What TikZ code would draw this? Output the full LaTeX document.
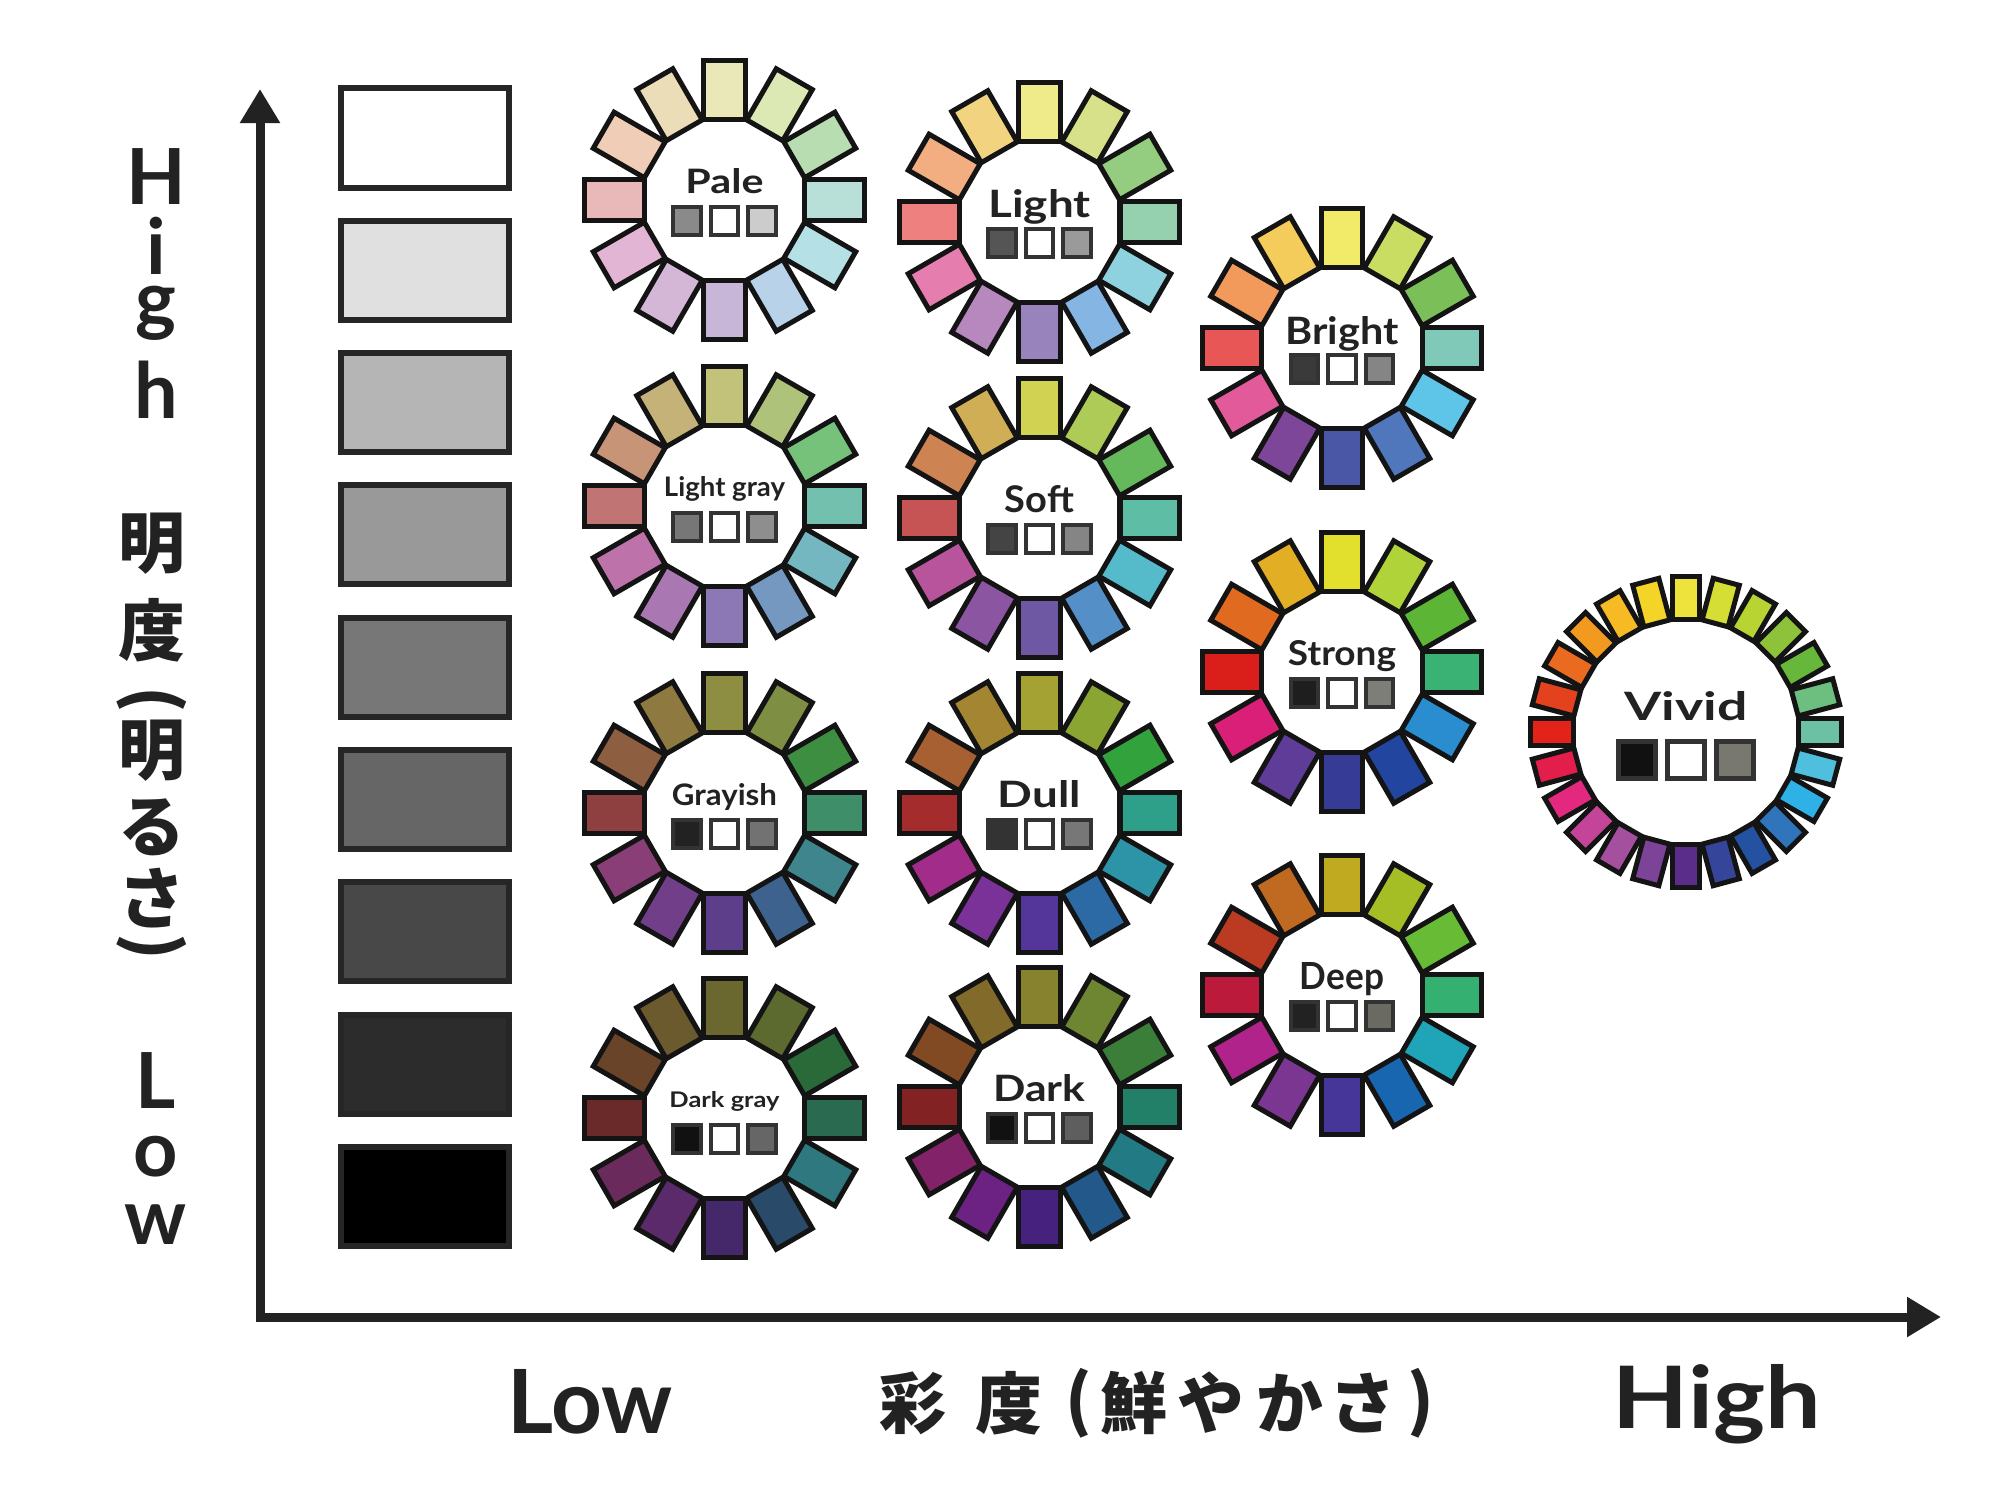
\documentclass[tikz,border=0pt]{standalone}
\usepackage{fontspec}
\usepackage{graphicx}
\usetikzlibrary{arrows.meta}
\newfontfamily\hand{Lato}
\newfontfamily\jp{Noto Sans CJK JP}
\newdimen\pxu \pxu=0.1mm
\definecolor{ink}{HTML}{222222}
\definecolor{edge}{HTML}{141414}
\definecolor{sqedge}{HTML}{333333}
\definecolor{boxedge}{HTML}{262626}
\tikzset{
 wrect/.style={draw=edge, line width=0.5mm, inner sep=0pt, minimum width=5.9mm, minimum height=4.16mm},
 vrect/.style={draw=edge, line width=0.5mm, inner sep=0pt, minimum width=4.3mm, minimum height=2.7mm},
 sq/.style={draw=sqedge, line width=0.4mm, inner sep=0pt, minimum size=2.75mm},
 vsq/.style={draw=sqedge, line width=0.45mm, inner sep=0pt, minimum size=3.7mm},
 gbox/.style={draw=boxedge, line width=0.6mm, inner sep=0pt, minimum width=16.8mm, minimum height=9.9mm},
 wlabel/.style={anchor=base, inner sep=0pt, text=ink, font=\hand\bfseries},
 axword/.style={anchor=north, align=center, inner sep=0pt, text=ink, font=\hand\bfseries\fontsize{22pt}{22.19pt}\selectfont},
 jpch/.style={inner sep=0pt, text=ink, font=\jp\bfseries\fontsize{19pt}{19pt}\selectfont},
 axisline/.style={draw=ink, line width=0.9mm, line join=miter},
}
\def\sqpair#1/#2\relax{\def\sqL{#1}\def\sqR{#2}}
% #1 name, #2 cx, #3 cy, #4 colours, #5 label, #6 W, #7 H, #8 L/R square colours; \lboff baseline offset
\newcommand\wheelXII[8]{%
  \foreach \c [count=\i from 0] in {#4} {%
    \edef\tmp{\noexpand\definecolor{wc}{HTML}{\c}}\tmp
    \node[wrect, fill=wc, rotate={90-30*\i}] (#1-\i) at ({#2+110*cos(90-30*\i)},{#3-110*sin(90-30*\i)}) {};
  }
  \node[wlabel] (#1-lbl) at (#2,{#3-\lboff}) {\resizebox{#6\pxu}{#7\pxu}{#5}};
  \sqpair#8\relax
  \edef\tmp{\noexpand\definecolor{sqa}{HTML}{\sqL}\noexpand\definecolor{sqb}{HTML}{\sqR}}\tmp
  \node[sq, fill=sqa] (#1-sa) at ({#2-37.5},{#3+21}) {};
  \node[sq, fill=white] (#1-sb) at (#2,{#3+21}) {};
  \node[sq, fill=sqb] (#1-sc) at ({#2+37.5},{#3+21}) {};
}
\begin{document}
\begin{tikzpicture}[x=0.01cm, y=-0.01cm]
\useasboundingbox (0,0) rectangle (2000,1500);
\fill[white] (0,0) rectangle (2000,1500);

% axes
\coordinate (ytip) at (260,89);
\coordinate (org) at (260,1317);
\coordinate (xtip) at (1941,1317);
\draw[axisline, {Triangle[length=3.4mm,width=3.8mm]}-{Triangle[length=3.4mm,width=3.8mm]}] (ytip) -- (org) -- (xtip);

% gray scale boxes
\foreach \g [count=\k from 0] in {FFFFFF,E0E0E0,B5B5B5,999999,777777,666666,484848,2C2C2C,000000} {
  \edef\tmp{\noexpand\definecolor{gc}{HTML}{\g}}\tmp
  \node[gbox, fill=gc] (box\k) at (425,{138+132.3*\k}) {};
}

% vertical axis labels
\node[axword] (yhigh) at (156,148) {H\\[-0.8mm]i\\[-2.6mm]g\\[1.4mm]h};
\node[jpch] (yj1) at (152,544) {明};
\node[jpch] (yj2) at (152,630) {度};
\node[jpch, rotate=-90] (yj3) at (152,700) {(};
\node[jpch] (yj4) at (152,751) {明};
\node[jpch] (yj5) at (152,827) {る};
\node[jpch] (yj6) at (152,898) {さ};
\node[jpch, rotate=-90] (yj7) at (152,947) {)};
\node[axword] (ylow) at (156,1052) {L\\[-1mm]o\\[-1mm]w};

% horizontal axis labels
\node[wlabel] (xlow) at (590,1433) {\resizebox{165\pxu}{64\pxu}{Low}};
\node[wlabel] (xhigh) at (1717,1428) {\resizebox{208\pxu}{64\pxu}{High}};
\node[jpch] (xj1) at (913,1403) {彩};
\node[jpch] (xj2) at (1009,1403) {度};
\node[jpch] (xj3) at (1079,1403) {(};
\node[jpch] (xj4) at (1134,1403) {鮮};
\node[jpch] (xj5) at (1211,1403) {や};
\node[jpch] (xj6) at (1290,1403) {か};
\node[jpch] (xj7) at (1363,1403) {さ};
\node[jpch] (xj8) at (1421,1403) {)};

% column 1
\def\lboff{7}
\wheelXII{pale}{724.5}{200}{EAE7B9,DDE9B5,B8DDB0,B8E0D8,B5E0E6,B8D2EA,C7B6D8,D4B6D7,E3B5D5,E9B8B8,EFCDB6,EBDDB7}{Pale}{78}{25}{8A8A8A/CCCCCC}
\def\lboff{10}
\wheelXII{ltg}{724.5}{506}{C2C27A,AEC279,76C27A,74C0AE,75B7C0,7498C0,8C78B4,A978B2,BD72AA,C07474,C79478,C4B278}{Light gray}{121}{20}{777777/8E8E8E}
\def\lboff{8}
\wheelXII{gry}{724.5}{813}{8E8E42,7E8E42,3E8E42,3E8E6A,3E858E,3E628E,5C3E8A,713E8A,8A3E78,8E4040,8E5E40,8E7A40}{Grayish}{105}{22}{222222/727272}
\def\lboff{11}
\wheelXII{dkg}{724.5}{1118}{6A682E,5C6A30,2A6A38,2A6A50,2F7880,2A4A6A,44286A,5A2A6A,6A2A5C,6A2A2A,6A4428,6A5A2E}{Dark gray}{110}{16}{111111/666666}

% column 2
\def\lboff{5}
\wheelXII{lgt}{1039.5}{222}{F0EB8A,D6E18A,95CD80,95D0AF,8ED2E0,85B5E2,9883BD,B688BE,E57DAE,EE8080,F2AE80,F2D480}{Light}{102}{28}{555555/9A9A9A}
\def\lboff{6}
\wheelXII{sft}{1039.5}{518}{D2D252,AECB57,65B95A,5DBEA5,55BBCA,558FC8,6E58A3,8C55A2,B8549C,C75454,CD8352,CFAE55}{Soft}{69}{27}{444444/858585}
\wheelXII{dul}{1039.5}{813}{A4A232,8AA532,32A23C,2EA08A,2C94A6,2C6AA6,54369A,7A3298,A22C8A,A42C2C,A66032,A48632}{Dull}{83}{27}{333333/777777}
\wheelXII{drk}{1039.5}{1107}{86822E,6E8632,3A7E3A,228068,227A84,22588A,46227E,6C2282,822268,822222,824A22,826A2A}{Dark}{92}{27}{111111/5E5E5E}

% column 3
\def\lboff{4}
\wheelXII{brt}{1342}{348}{F2EB6A,C9DD63,7BBF58,80C8B8,5EC4E8,5076BC,4A57A7,7D4698,E35A9B,E85656,F29A5C,F3CC5C}{Bright}{113}{28}{3A3A3A/858585}
\def\lboff{7}
\wheelXII{str}{1342}{672}{E2E02C,B1D33A,5CB534,3AB273,2A8DD0,2245A0,363B96,5F3C98,D91F78,DA1F1A,E06A1F,E2AE24}{Strong}{108}{25}{1E1E1E/7E7E78}
\def\lboff{6}
\wheelXII{dep}{1342}{995}{BFAA20,A6BE25,68BB35,34B070,1FA4B8,1966B0,46369A,7A3690,B0238A,BB1A3A,BB3A22,BF6A20}{Deep}{84}{27}{222222/6A6A62}

% vivid
\foreach \c [count=\i from 0] in {EEE33C,D5DE35,B8D432,8DC23A,67B73A,6DBF7F,6CC0A4,4FBFDE,2DB1E6,3075BB,2552A0,35469A,5B2D8B,7C4398,A5509E,C4449A,E2287F,E31E4B,E32219,E4411E,EA6A20,F29A20,F5BA24,F5D428} {
  \edef\tmp{\noexpand\definecolor{wc}{HTML}{\c}}\tmp
  \node[vrect, fill=wc, rotate={90-15*\i}] (viv-\i) at ({1686+134*cos(90-15*\i)},{732-134*sin(90-15*\i)}) {};
}
\node[wlabel] (viv-lbl) at (1686,720) {\resizebox{123\pxu}{29\pxu}{Vivid}};
\definecolor{vsa}{HTML}{111111}
\definecolor{vsc}{HTML}{787870}
\node[vsq, fill=vsa] (viv-sa) at (1637,760) {};
\node[vsq, fill=white] (viv-sb) at (1686,760) {};
\node[vsq, fill=vsc] (viv-sc) at (1735,760) {};
\end{tikzpicture}
\end{document}
